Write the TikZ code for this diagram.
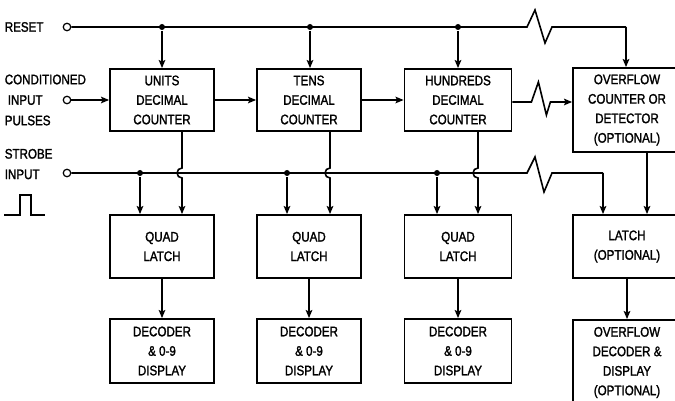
\documentclass[tikz,border=0pt]{standalone}
\usepackage{fontspec}
\setmainfont[FakeStretch=0.84, FakeBold=1.6]{Liberation Sans}
\usetikzlibrary{shapes,arrows.meta,positioning,calc}

\begin{document}
\begin{tikzpicture}[x=1pt, y=-1pt, line width=1.6pt,
    block/.style={rectangle, draw, line width=1.8pt, minimum width=104pt, minimum height=62pt, text centered, align=center, inner sep=0pt, font=\fontsize{13.8}{19.5}\selectfont},
    sidetext/.style={anchor=west, align=left, inner sep=0pt, font=\fontsize{13.8}{20.5}\selectfont},
    terminal/.style={circle, draw, line width=1.2pt, fill=white, minimum size=7.5pt, inner sep=0pt},
    junction/.style={circle, fill, minimum size=6pt, inner sep=0pt},
    arrow/.style={->, >={Stealth[length=8pt, width=6.5pt, inset=1.5pt]}}
]

\path[use as bounding box, fill=white] (0,0) rectangle (675,401);
\clip (0,0) rectangle (675,401);

% Inputs
\node[sidetext] (reset_txt) at (4,27) {RESET};
\node[sidetext] (cond_txt) at (4,100) {CONDITIONED\\\hspace{3pt}INPUT\\PULSES};
\node[sidetext, anchor=south west] (strobe_txt) at (4,180) {STROBE\\INPUT};
\node[terminal] (reset_in) at (67,27) {};
\node[terminal] (cond_in) at (67,100) {};
\node[terminal] (strobe_in) at (67,173) {};
\draw[line width=1.2pt] (4,215) -- (20,215) -- (20,195) -- (31,195) -- (31,215) -- (45,215);

% Counters
\node[block] (units_ctr) at (162,100) {UNITS\\DECIMAL\\COUNTER};
\node[block] (tens_ctr) at (309,100) {TENS\\DECIMAL\\COUNTER};
\node[block, minimum width=107pt] (hund_ctr) at (458,100) {HUNDREDS\\DECIMAL\\COUNTER};
\node[block, minimum width=108pt, minimum height=84pt] (ovf_ctr) at (627,110) {OVERFLOW\\COUNTER OR\\DETECTOR\\(OPTIONAL)};

% Latches
\node[block, minimum height=63pt] (units_latch) at (162,246.5) {QUAD\\LATCH};
\node[block, minimum height=63pt] (tens_latch) at (309,246.5) {QUAD\\LATCH};
\node[block, minimum width=107pt, minimum height=63pt] (hund_latch) at (458,246.5) {QUAD\\LATCH};
\node[block, minimum width=108pt, minimum height=63pt] (ovf_latch) at (627,246.5) {LATCH\\(OPTIONAL)};

% Decoders and displays
\node[block, minimum height=64pt] (units_dec) at (162,351) {DECODER\\\& 0-9\\DISPLAY};
\node[block, minimum height=64pt] (tens_dec) at (309,351) {DECODER\\\& 0-9\\DISPLAY};
\node[block, minimum width=107pt, minimum height=64pt] (hund_dec) at (458,351) {DECODER\\\& 0-9\\DISPLAY};
\node[block, minimum width=108pt, minimum height=85pt] (ovf_dec) at (627,362.5) {OVERFLOW\\DECODER \&\\DISPLAY\\(OPTIONAL)};

% Junctions
\node[junction] (rj1) at (162,27) {};
\node[junction] (rj2) at (310,27) {};
\node[junction] (rj3) at (458,27) {};
\node[junction] (sj1) at (140,173) {};
\node[junction] (sj2) at (287,173) {};
\node[junction] (sj3) at (437,173) {};
\coordinate (reset_end) at (626,27);
\coordinate (strobe_end) at (603,173);
\coordinate (units_out) at ([xshift=20pt]units_ctr.south);
\coordinate (tens_out) at ([xshift=21pt]tens_ctr.south);
\coordinate (hund_out) at ([xshift=20pt]hund_ctr.south);
\coordinate (ovf_out) at ([xshift=20pt]ovf_ctr.south);

% Reset bus
\draw (reset_in) -- (527,27) -- ++(8,-17) -- ++(10,33) -- ++(7,-16) -- (reset_end);
\draw[arrow] (reset_end) -- (reset_end |- ovf_ctr.north);
\draw[arrow] (rj1) -- (units_ctr);
\draw[arrow] (rj2) -- (rj2 |- tens_ctr.north);
\draw[arrow] (rj3) -- (rj3 |- hund_ctr.north);

% Count chain
\draw[arrow] (cond_in) -- (cond_in -| units_ctr.west);
\draw[arrow] (units_ctr) -- (tens_ctr);
\draw[arrow] (tens_ctr) -- (hund_ctr);
\draw[arrow] ([yshift=-2pt]hund_ctr.east) -- ++(19,0) -- ++(7,-20) -- ++(8,33) -- ++(4,-13) -- ([yshift=-2pt]hund_ctr.east -| ovf_ctr.west);

% Strobe bus
\draw (strobe_in) -- (527,173) -- ++(8,-16) -- ++(9,35) -- ++(8,-19) -- (strobe_end);
\draw[arrow] (strobe_end) -- (strobe_end |- ovf_latch.north);
\draw[arrow] (sj1) -- (sj1 |- units_latch.north);
\draw[arrow] (sj2) -- (sj2 |- tens_latch.north);
\draw[arrow] (sj3) -- (sj3 |- hund_latch.north);

% Counter outputs to latches
\draw[arrow] (units_out) -- (units_out |- 0,168) arc[start angle=90, end angle=270, radius=5pt] -- (units_out |- units_latch.north);
\draw[arrow] (tens_out) -- (tens_out |- 0,168) arc[start angle=90, end angle=270, radius=5pt] -- (tens_out |- tens_latch.north);
\draw[arrow] (hund_out) -- (hund_out |- 0,168) arc[start angle=90, end angle=270, radius=5pt] -- (hund_out |- hund_latch.north);
\draw[arrow] (ovf_out) -- (ovf_out |- ovf_latch.north);

% Latches to displays
\draw[arrow] (units_latch) -- (units_dec);
\draw[arrow] (tens_latch) -- (tens_dec);
\draw[arrow] (hund_latch) -- (hund_dec);
\draw[arrow] (ovf_latch) -- (ovf_dec);

\end{tikzpicture}
\end{document}
